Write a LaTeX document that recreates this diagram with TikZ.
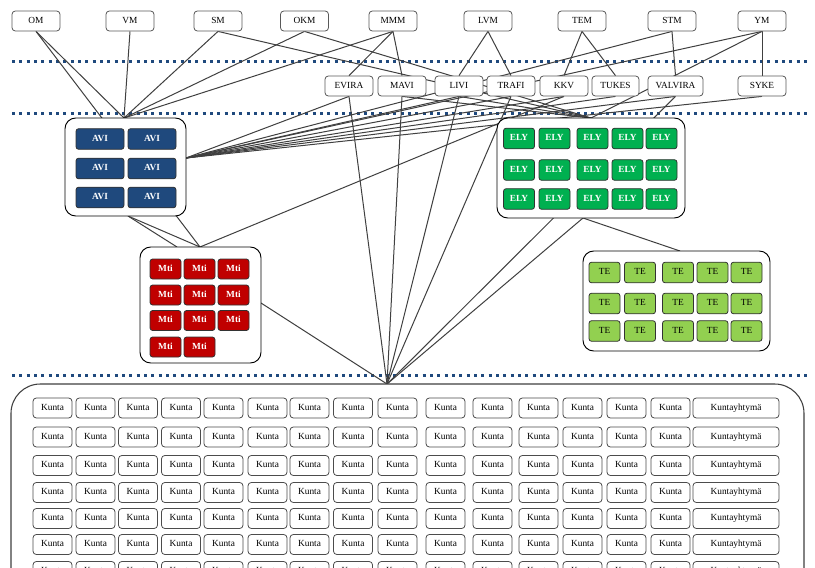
\documentclass[tikz,border=0pt]{standalone}
\usepackage{fontspec}
\setmainfont{Liberation Serif}
\usetikzlibrary{fit}
\definecolor{aviblue}{HTML}{1F497D}
\definecolor{mtired}{HTML}{C00000}
\definecolor{elygreen}{HTML}{00B050}
\definecolor{telime}{HTML}{92D050}
\definecolor{dotblue}{HTML}{1F497D}
\pgfdeclarelayer{bg}
\pgfsetlayers{bg,main}
\begin{document}
\begin{tikzpicture}[x=0.75pt,y=-0.75pt,
  font=\fontsize{7}{8}\selectfont,
  txt/.style={text height=4.9pt, text depth=1.4pt},
  org/.style={txt, draw=black!65, fill=white, rounded corners=2.5pt, line width=0.6pt,
    minimum width=36pt, minimum height=15pt, inner sep=0pt},
  grp/.style={draw=black, fill=white, rounded corners=8pt, line width=0.7pt, inner sep=0pt},
  bigrp/.style={draw=black!75, fill=white, rounded corners=22pt, line width=0.8pt, inner sep=0pt},
  colbox/.style={txt, draw=black!80, rounded corners=2pt, line width=0.6pt, inner sep=0pt,
    minimum height=15.5pt},
  avibox/.style={colbox, fill=aviblue, text=white, font=\fontsize{7}{8}\selectfont\bfseries, minimum width=36pt},
  mtibox/.style={colbox, fill=mtired, text=white, font=\fontsize{7}{8}\selectfont\bfseries, minimum width=23.25pt, minimum height=15pt},
  elybox/.style={colbox, fill=elygreen, text=white, font=\fontsize{7}{8}\selectfont\bfseries, minimum width=23.25pt},
  tebox/.style={colbox, fill=telime, text=black, minimum width=23.25pt},
  kunta/.style={txt, draw=black!70, fill=white, rounded corners=2.5pt, line width=0.6pt,
    minimum width=29.25pt, minimum height=15pt, inner sep=0pt},
  conn/.style={draw=black!75, line width=0.75pt},
  sep/.style={draw=dotblue, line width=2.25pt, dash pattern=on 2.25pt off 3.25pt}
]
\clip (0,0) rectangle (815,568);

% top row
\foreach \n/\t/\x in {om/OM/36, vm/VM/130, sm/SM/218, okm/OKM/304.5, mmm/MMM/393,
  lvm/LVM/488, tem/TEM/582, stm/STM/672, ym/YM/762}
  \node[org] (\n) at (\x,21) {\t};

% second row
\foreach \n/\t/\x/\w in {evira/EVIRA/349/36pt, mavi/MAVI/402/36pt, livi/LIVI/459/36pt,
  trafi/TRAFI/511/36pt, kkv/KKV/564/36pt, tukes/TUKES/615.5/35.25pt,
  valvira/VALVIRA/675.5/41.25pt, syke/SYKE/762/36pt}
  \node[org, minimum width=\w] (\n) at (\x,86) {\t};

% groups
\node[grp, fit={(65,118) (186,216)}] (avi) {};
\node[grp, fit={(140,247) (261,363)}] (mti) {};
\node[grp, fit={(497,118) (685,218)}] (ely) {};
\node[grp, fit={(583,251) (770,351)}] (te) {};
\node[bigrp, fit={(11,384) (804,660)}] (kuntat) {};

% inner boxes
\foreach \r/\y in {1/139, 2/168.5, 3/197.5}
  \foreach \c/\x in {1/100, 2/152}
    \node[avibox] (avi-\r-\c) at (\x,\y) {AVI};
\foreach \r/\y in {1/269, 2/295, 3/320.5}
  \foreach \c/\x in {1/165.5, 2/199.5, 3/233.5}
    \node[mtibox] (mti-\r-\c) at (\x,\y) {Mti};
\foreach \c/\x in {1/165.5, 2/199.5}
  \node[mtibox] (mti-4-\c) at (\x,347) {Mti};
\foreach \r/\y in {1/138.5, 2/170, 3/199}
  \foreach \c/\x in {1/519, 2/554.5, 3/592.5, 4/627.5, 5/661.5}
    \node[elybox] (ely-\r-\c) at (\x,\y) {ELY};
\foreach \r/\y in {1/272.5, 2/303.5, 3/331}
  \foreach \c/\x in {1/604.5, 2/640, 3/678, 4/712.5, 5/746.5}
    \node[tebox] (te-\r-\c) at (\x,\y) {TE};
\foreach \r/\y in {1/408, 2/437, 3/465.5, 4/492.5, 5/518.5, 6/544.5, 7/571.5} {
  \foreach \c/\x in {1/52.5, 2/95.5, 3/138, 4/181, 5/223.5, 6/267.5, 7/309.5, 8/353,
    9/397.5, 10/445.5, 11/492.5, 12/538.5, 13/582.5, 14/626.5, 15/670.5}
    \node[kunta] (k-\r-\c) at (\x,\y) {Kunta};
  \node[kunta, minimum width=64.5pt] (ky-\r) at (736,\y) {Kuntayhtymä};
}

% connection points
\coordinate (aviN) at (124,118);
\coordinate (aviE) at (186,158);
\coordinate (aviS) at (128,216);
\coordinate (mtiN) at (200,247);
\coordinate (mtiN2) at (177,247);
\coordinate (mtiE) at (261,303);
\coordinate (elyN) at (591,118);
\coordinate (elyS) at (583,218);
\coordinate (teN) at (680,251);
\coordinate (kuN) at (387,384);

\begin{pgfonlayer}{bg}
  \fill[white] (0,0) rectangle (815,568);
  \path[sep] (12,61) -- (807,61);
  \path[sep] (12,113) -- (807,113);
  \path[sep] (12,375) -- (807,375);
  % ministries
  \draw[conn] (om.south) -- (aviN);
  \draw[conn] (om.south) -- (mtiN);
  \draw[conn] (vm.south) -- (aviN);
  \draw[conn] (sm.south) -- (aviN);
  \draw[conn] (sm.south) -- (elyN);
  \draw[conn] (okm.south) -- (aviN);
  \draw[conn] (okm.south) -- (elyN);
  \draw[conn] (mmm.south) -- (aviN);
  \draw[conn] (mmm.south) -- (evira.north);
  \draw[conn] (mmm.south) -- (mavi.north);
  \draw[conn] (lvm.south) -- (livi.north);
  \draw[conn] (lvm.south) -- (trafi.north);
  \draw[conn] (tem.south) -- (kkv.north);
  \draw[conn] (tem.south) -- (tukes.north);
  \draw[conn] (stm.south) -- (aviE);
  \draw[conn] (stm.south) -- (valvira.north);
  \draw[conn] (ym.south) -- (aviE);
  \draw[conn] (ym.south) -- (elyN);
  \draw[conn] (ym.south) -- (syke.north);
  % agencies
  \draw[conn] (evira.south) -- (aviE);
  \draw[conn] (evira.south) -- (kuN);
  \draw[conn] (mavi.south) -- (kuN);
  \draw[conn] (mavi.south) -- (elyN);
  \draw[conn] (livi.south) -- (aviE);
  \draw[conn] (livi.south) -- (elyN);
  \draw[conn] (livi.south) -- (kuN);
  \draw[conn] (trafi.south) -- (aviE);
  \draw[conn] (trafi.south) -- (kuN);
  \draw[conn] (kkv.south) -- (aviE);
  \draw[conn] (kkv.south) -- (mtiN);
  \draw[conn] (tukes.south) -- (aviE);
  \draw[conn] (valvira.south) -- (aviE);
  \draw[conn] (valvira.south) -- (kuN);
  \draw[conn] (syke.south) -- (aviE);
  % regional
  \draw[conn] (aviS) -- (mtiN2);
  \draw[conn] (aviS) -- (mtiN);
  \draw[conn] (mtiE) -- (kuN);
  \draw[conn] (elyS) -- (kuN);
  \draw[conn] (elyS) -- (teN);
\end{pgfonlayer}
\end{tikzpicture}
\end{document}
